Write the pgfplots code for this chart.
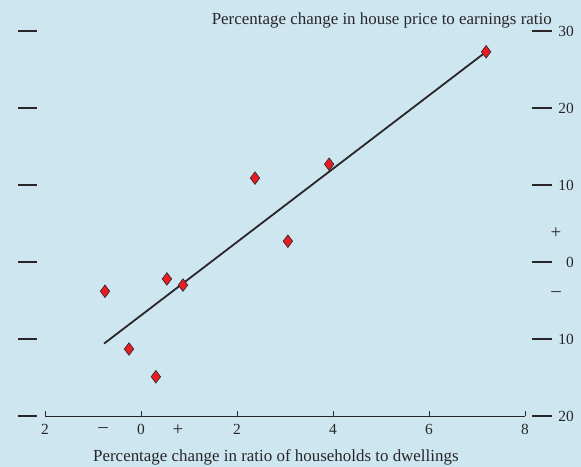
\documentclass[border=0pt]{standalone}
\usepackage{fontspec}
\setmainfont{Liberation Serif}
\usepackage{pgfplots}
\pgfplotsset{compat=1.18}
\definecolor{bg}{RGB}{206,230,240}
\definecolor{mk}{RGB}{232,28,36}
\definecolor{ink}{RGB}{40,38,40}
\newcommand{\tfont}{\fontsize{17}{19}\selectfont}
\newcommand{\nfont}{\fontsize{15.5}{18}\selectfont}
\newcommand{\sfont}{\fontsize{19}{21}\selectfont}
\begin{document}
\begin{tikzpicture}
\path[use as bounding box, fill=bg] (-45bp,-51bp) rectangle (536bp,416bp);
\begin{axis}[
 at={(0,0)}, anchor=south west,
 scale only axis, width=480bp, height=385bp,
 xmin=-2, xmax=8, ymin=-20, ymax=30,
 axis x line*=bottom, axis y line=none,
 x axis line style={-, line width=0.9bp, draw=ink},
 xtick={-2,0,2,4,6,8}, xticklabels={2,0,2,4,6,8},
 xtick align=inside, major tick length=5bp,
 tick style={draw=ink, line width=0.9bp},
 ytick=\empty,
 xticklabel style={font=\nfont, text=ink, anchor=north, inner sep=0pt, yshift=-8.3bp},
 clip=false,
]
\addplot[draw=ink, line width=1.8bp, no marks] coordinates {(-0.77,-10.6) (7.19,27.3)};
\addplot[only marks, mark=diamond*, mark size=6.3bp, mark options={fill=mk, draw=ink, line width=0.6bp}] coordinates {
(7.19,27.3) (3.92,12.7) (2.375,10.9) (3.06,2.7) (0.54,-2.2) (0.875,-3.0) (-0.75,-3.8) (-0.25,-11.3) (0.31,-14.9)};
% y ticks left and right
\draw[ink, line width=1.1bp] ([xshift=-27bp]axis cs:-2,30) -- ([xshift=-8bp]axis cs:-2,30);
\draw[ink, line width=1.1bp] ([xshift=-27bp]axis cs:-2,20) -- ([xshift=-8bp]axis cs:-2,20);
\draw[ink, line width=1.1bp] ([xshift=-27bp]axis cs:-2,10) -- ([xshift=-8bp]axis cs:-2,10);
\draw[ink, line width=1.1bp] ([xshift=-27bp]axis cs:-2,0) -- ([xshift=-8bp]axis cs:-2,0);
\draw[ink, line width=1.1bp] ([xshift=-27bp]axis cs:-2,-10) -- ([xshift=-8bp]axis cs:-2,-10);
\draw[ink, line width=1.1bp] ([xshift=-27bp]axis cs:-2,-20) -- ([xshift=-8bp]axis cs:-2,-20);
\draw[ink, line width=1.1bp] ([xshift=7bp]axis cs:8,30) -- ([xshift=27bp]axis cs:8,30);
\draw[ink, line width=1.1bp] ([xshift=7bp]axis cs:8,20) -- ([xshift=27bp]axis cs:8,20);
\draw[ink, line width=1.1bp] ([xshift=7bp]axis cs:8,10) -- ([xshift=27bp]axis cs:8,10);
\draw[ink, line width=1.1bp] ([xshift=7bp]axis cs:8,0) -- ([xshift=27bp]axis cs:8,0);
\draw[ink, line width=1.1bp] ([xshift=7bp]axis cs:8,-10) -- ([xshift=27bp]axis cs:8,-10);
\draw[ink, line width=1.1bp] ([xshift=7bp]axis cs:8,-20) -- ([xshift=27bp]axis cs:8,-20);
\node[font=\nfont, anchor=east, text=ink, inner sep=0pt] at ([xshift=49bp]axis cs:8,30) {30};
\node[font=\nfont, anchor=east, text=ink, inner sep=0pt] at ([xshift=49bp]axis cs:8,20) {20};
\node[font=\nfont, anchor=east, text=ink, inner sep=0pt] at ([xshift=49bp]axis cs:8,10) {10};
\node[font=\nfont, anchor=east, text=ink, inner sep=0pt] at ([xshift=49bp]axis cs:8,0) {0};
\node[font=\nfont, anchor=east, text=ink, inner sep=0pt] at ([xshift=49bp]axis cs:8,-10) {10};
\node[font=\nfont, anchor=east, text=ink, inner sep=0pt] at ([xshift=49bp]axis cs:8,-20) {20};
\node[font=\sfont, text=ink, inner sep=0pt] at ([xshift=31bp]axis cs:8,3.8) {+};
\node[font=\sfont, text=ink, inner sep=0pt] at ([xshift=31bp]axis cs:8,-4.2) {–};
\node[font=\sfont, text=ink, inner sep=0pt] at ([yshift=-14bp]axis cs:-0.79,-20) {–};
\node[font=\sfont, text=ink, inner sep=0pt] at ([yshift=-14bp]axis cs:0.77,-20) {+};
\node[font=\tfont, anchor=base east, text=ink, inner sep=0pt] at ([xshift=27bp,yshift=6.7bp]axis cs:8,30) {Percentage change in house price to earnings ratio};
\node[font=\tfont, anchor=base, text=ink, inner sep=0pt] at ([yshift=-45bp]axis cs:2.81,-20) {Percentage change in ratio of households to dwellings};
\end{axis}
\end{tikzpicture}
\end{document}
